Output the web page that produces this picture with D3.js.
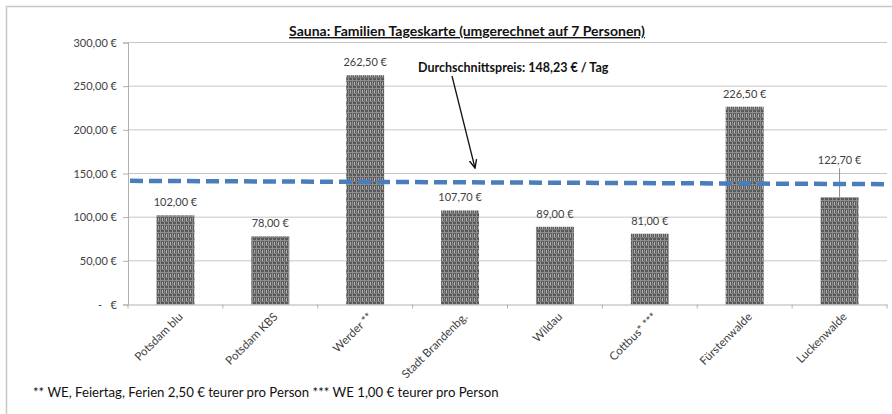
<!DOCTYPE html>
<html><head><meta charset="utf-8">
<script src="https://cdn.jsdelivr.net/npm/d3@7"></script>
<style>
body{margin:0;background:#fff;}
text{font-family:Lato,"Open Sans",sans-serif;}
</style></head>
<body><svg id="chart" width="892" height="414"></svg>
<script>
const categories = ["Potsdam blu","Potsdam KBS","Werder **","Stadt Brandenbg.","Wildau","Cottbus* ***","Fürstenwalde","Luckenwalde"];
const prices = [102.00, 78.00, 262.50, 107.70, 89.00, 81.00, 226.50, 122.70];
const yTicks = [0, 50, 100, 150, 200, 250, 300];
const avgLine = [141.6, 137.8]; // dashed line value at left and right edge of plot
const title = "Sauna: Familien Tageskarte (umgerechnet auf 7 Personen)";
const annotation = "Durchschnittspreis: 148,23 € / Tag";
const footnote = "** WE, Feiertag, Ferien 2,50 € teurer pro Person *** WE 1,00 € teurer pro Person";

const fmt = v => v === 0 ? "-\u00a0\u00a0\u00a0€" : v.toFixed(2).replace(".", ",") + " €";

const svg = d3.select("#chart");
const L = 128, R = 887, T = 42.5, B = 304.5;

// frame
svg.append("path").attr("d", `M6.5,414 V6.5 H892`).attr("fill","none").attr("stroke","#c8c8c8").attr("stroke-width",1.5);

const defs = svg.append("defs");
const pat = defs.append("pattern").attr("id","chk").attr("patternUnits","userSpaceOnUse")
  .attr("width",8).attr("height",8);
pat.append("rect").attr("width",8).attr("height",8).attr("fill","#5a5a5a");
pat.append("rect").attr("x",0).attr("y",0).attr("width",1).attr("height",8).attr("fill","#8e8e8e");
pat.append("rect").attr("x",4).attr("y",0).attr("width",1).attr("height",8).attr("fill","#8e8e8e");
pat.append("rect").attr("x",0).attr("y",0).attr("width",8).attr("height",1).attr("fill","#8e8e8e");
pat.append("rect").attr("x",2).attr("y",2).attr("width",1).attr("height",3).attr("fill","#b4b4b4");
pat.append("rect").attr("x",6).attr("y",2).attr("width",1).attr("height",3).attr("fill","#b4b4b4");
pat.append("rect").attr("x",0).attr("y",5).attr("width",8).attr("height",1).attr("fill","#7a7a7a");

const x = d3.scaleBand().domain(categories).range([L, R]).paddingInner(0.6).paddingOuter(0.3);
const y = d3.scaleLinear().domain([0, 300]).range([B, T]);

// gridlines
svg.append("g").selectAll("line").data(yTicks.filter(d=>d>0)).join("line")
  .attr("x1", L).attr("x2", R).attr("y1", d=>y(d)).attr("y2", d=>y(d))
  .attr("stroke","#c6c6c6").attr("stroke-width",1);

// y axis
const yAxis = svg.append("g").attr("transform",`translate(${L},0)`)
  .call(d3.axisLeft(y).tickValues(yTicks).tickFormat(fmt).tickSize(5).tickPadding(6));
yAxis.select(".domain").attr("stroke","#b0b0b0");
yAxis.selectAll(".tick line").attr("stroke","#b0b0b0");
yAxis.selectAll("text").attr("font-size",11).attr("fill","#404040").style("font-family","Lato,sans-serif");

// x axis
const xAxis = svg.append("g").attr("transform",`translate(0,${B})`)
  .call(d3.axisBottom(x).tickSize(0).tickFormat(""));
xAxis.select(".domain").attr("stroke","#b0b0b0");
// tick marks between categories
svg.append("g").selectAll("line").data(d3.range(categories.length+1)).join("line")
  .attr("x1", i => L + i*x.step()).attr("x2", i => L + i*x.step())
  .attr("y1", B).attr("y2", B+4).attr("stroke","#b0b0b0");

// x labels rotated
svg.append("g").selectAll("text").data(categories).join("text")
  .attr("transform", d => `translate(${x(d)+x.bandwidth()/2+8},${B+13}) rotate(-45)`)
  .attr("text-anchor","end").attr("font-size",11.5).attr("fill","#404040").text(d=>d);

// bars
svg.append("g").selectAll("rect").data(prices).join("rect")
  .attr("x", (d,i) => x(categories[i])).attr("width", x.bandwidth())
  .attr("y", d => y(d)).attr("height", d => B - y(d))
  .attr("fill","url(#chk)");

// value labels
const lblOffset = (i) => categories[i] === "Luckenwalde" ? 24 : 0;
svg.append("g").selectAll("text").data(prices).join("text")
  .attr("x", (d,i) => x(categories[i]) + x.bandwidth()/2)
  .attr("y", (d,i) => y(d) - 9 - lblOffset(i))
  .attr("text-anchor","middle").attr("font-size",11).attr("fill","#404040").text(d=>fmt(d));
// leader line for moved label
prices.forEach((d,i)=>{
  if (lblOffset(i) > 0) {
    const cx = x(categories[i]) + x.bandwidth()/2;
    svg.append("line").attr("x1",cx).attr("x2",cx).attr("y1",y(d)-lblOffset(i)-5).attr("y2",y(d))
      .attr("stroke","#8c8c8c").attr("stroke-width",1);
  }
});

// dashed average line
svg.append("line").attr("x1", L+2).attr("x2", R-3)
  .attr("y1", y(avgLine[0])).attr("y2", y(avgLine[1]))
  .attr("stroke","#4a7ebb").attr("stroke-width",4.5).attr("stroke-dasharray","13,6");

// title
svg.append("text").attr("x", 467).attr("y", 36).attr("text-anchor","middle")
  .attr("font-size",14).attr("font-weight","bold").attr("fill","#111")
  .attr("text-decoration","underline").text(title);

// annotation
svg.append("text").attr("x", 418).attr("y", 72).attr("font-size",12.5).attr("font-weight","bold")
  .attr("fill","#111").text(annotation);
defs.append("marker").attr("id","arr").attr("viewBox","0 0 10 10").attr("refX",9).attr("refY",5)
  .attr("markerWidth",7).attr("markerHeight",7).attr("orient","auto")
  .append("path").attr("d","M0,1 L9,5 L0,9").attr("fill","none").attr("stroke","#111").attr("stroke-width",1.5);
svg.append("line").attr("x1",452).attr("y1",76).attr("x2",475).attr("y2",168)
  .attr("stroke","#111").attr("stroke-width",1.3).attr("marker-end","url(#arr)");

// footnote
svg.append("text").attr("x", 33).attr("y", 397).attr("font-size",13.2).attr("fill","#111").text(footnote);
</script></body></html>
